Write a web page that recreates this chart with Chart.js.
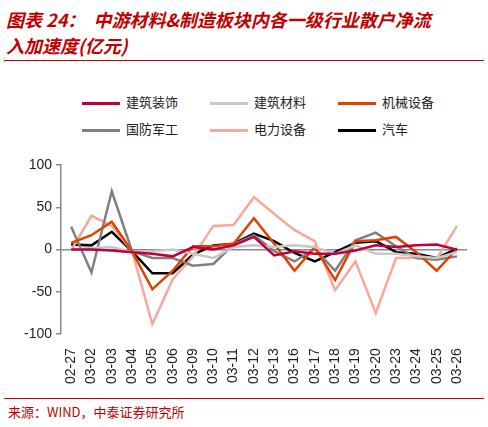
<!DOCTYPE html><html><head><meta charset="utf-8">
<script src="https://cdn.jsdelivr.net/npm/chart.js@4"></script>
<style>
body{margin:0;width:488px;height:427px;background:#fff;font-family:"Noto Sans CJK SC",sans-serif;position:relative;overflow:hidden}
#title{position:absolute;left:6px;top:6px;width:440px;color:#c00000;font-size:18px;font-weight:bold;font-style:italic;line-height:26px}
#tl{position:absolute;left:4px;top:60px;width:480px;border-top:1px solid #c00000}
#legend{position:absolute;left:82px;top:92px;width:360px;font-size:13px;color:#222}
.it{display:inline-block;width:128px;height:27px;vertical-align:top;white-space:nowrap}
.it:nth-child(3n){width:100px}
.sw{display:inline-block;width:38px;height:3px;vertical-align:middle;margin-right:6px}
#wrap{position:absolute;left:0;top:150px;width:480px;height:240px}
#bl{position:absolute;left:4px;top:398px;width:480px;border-top:1px solid #c00000}
#src{position:absolute;left:8px;top:402px;font-size:13px;color:#c00000}
</style></head><body>
<div id="title">图表 24：&nbsp;&nbsp;中游材料&amp;制造板块内各一级行业散户净流入加速度(亿元)</div>
<div id="tl"></div>
<div id="legend"></div>
<div id="wrap"><canvas id="c"></canvas></div>
<div id="bl"></div>
<div id="src">来源：WIND，中泰证券研究所</div>
<script>
const categories=["02-27","03-02","03-03","03-04","03-05","03-06","03-09","03-10","03-11","03-12","03-13","03-16","03-17","03-18","03-19","03-20","03-23","03-24","03-25","03-26"];
const jianzhuZhuangshi=[0,0,-1,-3,-5,-8,3,0,5,15,-7,-2,-5,-5,-1,5,3,5,6,0];
const jianzhuCailiao=[0,2,3,-3,-2,0,-5,-10,3,5,3,5,3,-5,5,-5,-5,-8,-10,-3];
const jixieShebei=[8,17,33,-2,-47,-25,4,4,7,37,7,-25,3,-36,10,11,15,-3,-25,1];
const guofangJungong=[27,-27,69,-2,-10,-10,-19,-17,6,17,-2,-14,1,-25,11,20,4,-10,-12,-8];
const dianliShebei=[-1,40,28,-2,-88,-35,-8,28,29,62,42,23,10,-48,-14,-75,-10,-10,-11,28];
const qiche=[6,5,21,-2,-28,-28,-6,5,7,19,10,-4,-14,-3,8,10,-3,-5,-10,1];
const yTicks=[100,50,0,-50,-100];
const series=[
 ["建筑装饰",jianzhuZhuangshi,"#c0003c"],
 ["建筑材料",jianzhuCailiao,"#c8c8c8"],
 ["机械设备",jixieShebei,"#e04000"],
 ["国防军工",guofangJungong,"#808080"],
 ["电力设备",dianliShebei,"#f8a898"],
 ["汽车",qiche,"#000000"]];
document.getElementById('legend').innerHTML=series.map(s=>`<span class="it"><span class="sw" style="background:${s[2]}"></span>${s[0]}</span>`).join('');
new Chart(document.getElementById('c'),{type:'line',
data:{labels:categories,datasets:series.map(s=>({label:s[0],data:s[1],borderColor:s[2],borderWidth:2.5,pointRadius:0,tension:0,fill:false}))},
options:{responsive:true,maintainAspectRatio:false,animation:false,
layout:{padding:{left:20,right:10,top:15}},
plugins:{legend:{display:false},tooltip:{enabled:false}},
scales:{
 y:{min:-100,max:100,afterBuildTicks:a=>{a.ticks=yTicks.map(v=>({value:v}))},
  border:{color:'#888',width:1.5},
  grid:{drawOnChartArea:true,color:c=>c.tick&&c.tick.value===0?'#888':'rgba(0,0,0,0)',lineWidth:1.5,tickLength:5,tickColor:'#888'},
  ticks:{color:'#222',font:{size:14,family:'Liberation Sans'},padding:4}},
 x:{offset:true,border:{display:false},grid:{display:false},
  ticks:{color:'#222',font:{size:14,family:'Liberation Sans'},minRotation:90,maxRotation:90,autoSkip:false,padding:6}}
}}});
</script></body></html>
